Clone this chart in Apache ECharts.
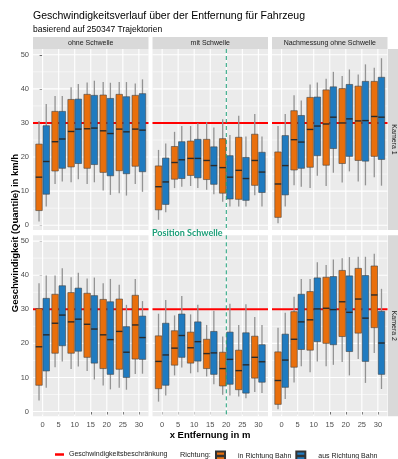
<!DOCTYPE html>
<html>
<head>
<meta charset="utf-8">
<script src="https://cdn.jsdelivr.net/npm/echarts@6/dist/echarts.min.js"></script>
<style>html,body{margin:0;padding:0;background:#fff}#c{width:398px;height:459px}</style>
</head>
<body>
<div id="c"></div>
<script>
// ---------- data ----------
const categories = [0, 5, 10, 15, 20, 25, 30];
const panelNames = ['ohne Schwelle', 'mit Schwelle', 'Nachmessung ohne Schwelle'];
const cameraNames = ['Kamera 1', 'Kamera 2'];
const yTicks = [0, 10, 20, 30, 40, 50];
const yMinorTicks = [5, 15, 25, 35, 45];
const speedLimit = [30];
const schwellePos = [20];
const seriesNames = ['in Richtung Bahn', 'aus Richtung Bahn'];
// each entry: [lower whisker, Q1, median, Q3, upper whisker]
const k1_ohne_in  = [[1.1,4.3,14.1,23.8,30.6],[12.1,15.9,24.5,33.4,37.9],[12.6,17.1,27.5,36.9,40.5],[12.1,16.7,28.3,38.4,41.9],[10.2,15.5,27.7,38.2,42.0],[9.4,16.0,28.2,38.4,42.0],[12.1,17.3,28.2,38.1,41.6]];
const k1_ohne_aus = [[5.5,9.1,18.7,29.2,35.6],[12.8,16.7,25.3,33.4,37.9],[13.5,18.1,28.2,37.0,41.4],[12.6,17.8,28.5,38.1,42.4],[8.9,14.5,26.9,37.2,41.8],[8.7,15.1,27.4,37.7,42.0],[9.8,15.7,27.9,38.6,42.8]];
const k1_mit_in   = [[1.6,4.5,11.3,17.4,22.1],[10.9,13.5,18.4,23.1,27.4],[11.5,14.6,19.6,24.7,29.1],[10.4,13.4,19.0,25.2,30.2],[6.9,9.4,16.9,25.4,31.1],[5.5,7.6,16.1,25.8,32.1],[8.8,11.7,19.0,26.7,32.6]];
const k1_mit_aus  = [[3.8,6.1,12.7,19.7,24.0],[11.3,13.7,19.2,24.5,29.1],[10.9,13.9,19.6,25.2,29.9],[9.1,12.0,17.5,23.0,28.7],[5.5,7.7,14.1,20.4,26.5],[5.5,7.3,13.7,19.9,26.0],[5.5,9.6,15.6,21.4,26.0]];
const k1_nach_in  = [[0.6,2.3,12.1,21.5,29.1],[11.7,16.2,25.1,33.6,38.1],[10.9,17.0,28.1,37.5,41.3],[11.5,17.6,29.7,39.7,43.0],[12.5,18.1,30.0,40.1,43.8],[12.8,19.0,30.6,40.8,44.2],[14.1,20.2,31.9,42.2,46.2]];
const k1_nach_aus = [[5.5,8.9,17.5,26.3,32.6],[11.3,16.7,24.4,32.2,36.6],[14.5,20.4,29.1,37.6,41.9],[15.4,22.5,31.7,40.6,45.0],[15.8,20.2,31.2,41.3,45.7],[11.7,18.8,30.7,42.2,47.2],[11.6,19.3,31.7,43.4,49.0]];
const k2_ohne_in  = [[3.2,7.7,19.0,30.2,37.6],[13.0,17.1,25.9,34.4,39.9],[12.5,17.1,26.3,34.9,39.4],[11.9,15.9,25.6,34.7,39.0],[7.6,12.6,22.5,32.9,37.6],[7.0,12.4,23.5,33.0,37.2],[11.0,15.4,25.4,34.1,38.9]];
const k2_ohne_aus = [[7.0,11.9,22.5,33.2,39.9],[14.7,19.3,28.3,36.9,42.0],[13.2,17.7,27.1,36.2,40.7],[9.4,14.2,24.2,34.0,39.3],[6.5,10.9,21.1,32.2,38.9],[6.4,10.0,17.4,24.9,31.3],[11.1,15.3,21.7,28.0,32.4]];
const k2_mit_in   = [[2.9,6.7,14.7,22.2,28.7],[10.6,13.6,18.6,23.7,28.2],[11.2,14.2,18.7,23.3,28.5],[10.3,12.6,17.0,21.2,25.4],[4.9,7.5,12.6,17.4,22.0],[4.4,6.4,12.0,18.0,25.4],[5.7,9.8,15.9,22.1,27.7]];
const k2_mit_aus  = [[4.7,7.7,16.6,25.9,32.7],[12.9,15.9,22.3,28.6,33.9],[11.5,14.8,20.5,26.3,31.3],[8.0,10.9,17.2,23.5,29.6],[4.7,8.0,15.3,23.3,31.6],[3.9,5.4,13.7,23.1,31.5],[5.4,8.6,14.6,19.6,25.4]];
const k2_nach_in  = [[0.7,2.1,9.1,17.5,24.6],[8.5,13.0,21.2,29.3,33.7],[11.5,18.0,26.9,35.2,38.9],[13.3,20.0,30.3,39.4,43.0],[14.5,22.0,32.2,41.4,45.0],[15.4,23.0,33.0,42.0,45.4],[17.2,24.6,34.2,42.7,46.3]];
const k2_nach_aus = [[3.7,7.1,15.1,22.7,29.0],[13.3,18.2,26.3,34.4,38.9],[14.7,20.5,30.1,39.2,43.8],[13.7,19.6,29.9,39.6,44.6],[10.6,17.6,29.1,39.8,45.3],[8.4,14.7,27.4,39.9,45.4],[6.6,10.9,20.1,29.4,36.0]];

const panelData = [
  [[k1_ohne_in, k1_ohne_aus], [k1_mit_in, k1_mit_aus], [k1_nach_in, k1_nach_aus]],
  [[k2_ohne_in, k2_ohne_aus], [k2_mit_in, k2_mit_aus], [k2_nach_in, k2_nach_aus]]
];

// ---------- layout / style ----------
const FONT = '"Liberation Sans", Arial, sans-serif';
const colors = ['#E96F0C', '#1F7BC0'];
const colLeft = [33, 152.5, 272];
const panelW = 115.5;
const rowTop = [49, 235.3];
const panelH = 181;
const yMin = -1.4, yMax = 51.7, xMin = -3, xMax = 33;
const dodge = 1.125, boxHalf = 1.0125;

const chart = echarts.init(document.getElementById('c'), null, {renderer: 'canvas'});

const grids = [], xAxes = [], yAxes = [], series = [];
for (let r = 0; r < 2; r++) {
  for (let c = 0; c < 3; c++) {
    const gi = r * 3 + c;
    grids.push({left: colLeft[c], top: rowTop[r], width: panelW, height: panelH,
      show: true, backgroundColor: '#EBEBEB', borderWidth: 0, containLabel: false});
    xAxes.push({gridIndex: gi, type: 'value', min: xMin, max: xMax,
      axisLine: {show: false}, splitLine: {show: false},
      axisTick: {show: r === 1, customValues: categories, length: 3, lineStyle: {color: '#333', width: 1}},
      axisLabel: {show: r === 1, customValues: categories, fontSize: 7.5, color: '#4D4D4D', margin: 5, fontFamily: FONT}});
    yAxes.push({gridIndex: gi, type: 'value', min: yMin, max: yMax,
      axisLine: {show: false}, splitLine: {show: false},
      axisTick: {show: c === 0, customValues: yTicks, length: 3, lineStyle: {color: '#333', width: 1}},
      axisLabel: {show: c === 0, customValues: yTicks, fontSize: 7.5, color: '#4D4D4D', margin: 4, fontFamily: FONT}});

    // background grid lines
    const glData = yTicks.map(v => [0, v]).concat(yMinorTicks.map(v => [1, v])).concat(categories.map(v => [2, v]));
    series.push({type: 'custom', xAxisIndex: gi, yAxisIndex: gi, z: 1, silent: true, clip: true,
      data: glData, encode: {x: -1, y: 1},
      renderItem: function (p, api) {
        const kind = api.value(0), v = api.value(1), cs = p.coordSys;
        if (kind === 2) {
          const x = api.coord([v, 0])[0];
          return {type: 'line', shape: {x1: x, y1: cs.y, x2: x, y2: cs.y + cs.height}, style: {stroke: '#fff', lineWidth: 1.1}};
        }
        const y = api.coord([0, v])[1];
        return {type: 'line', shape: {x1: cs.x, y1: y, x2: cs.x + cs.width, y2: y},
          style: {stroke: '#fff', lineWidth: kind === 0 ? 1.1 : 0.55}};
      }});

    // speed limit line
    series.push({type: 'custom', name: 'Geschwindigkeitsbeschränkung', xAxisIndex: gi, yAxisIndex: gi, z: 2,
      itemStyle: {color: '#FF0000'}, data: speedLimit.map(v => [0, v]), encode: {x: -1, y: 1},
      renderItem: function (p, api) {
        const cs = p.coordSys, y = api.coord([0, api.value(1)])[1];
        return {type: 'line', shape: {x1: cs.x, y1: y, x2: cs.x + cs.width, y2: y}, style: {stroke: '#FF0000', lineWidth: 2}};
      }});

    // boxplots
    for (let s = 0; s < 2; s++) {
      const off = s === 0 ? -dodge : dodge;
      const col = colors[s];
      const data = panelData[r][c][s].map((b, i) => [categories[i]].concat(b));
      series.push({type: 'custom', name: seriesNames[s], xAxisIndex: gi, yAxisIndex: gi, z: 3,
        itemStyle: {color: col, borderColor: '#333', borderWidth: 0.6},
        data: data, encode: {x: 0, y: [1, 2, 3, 4, 5]},
        renderItem: function (p, api) {
          const x = api.value(0) + off;
          const lo = api.value(1), q1 = api.value(2), md = api.value(3), q3 = api.value(4), hi = api.value(5);
          const pLo = api.coord([x, lo]), pHi = api.coord([x, hi]);
          const a = api.coord([x - boxHalf, q3]), b = api.coord([x + boxHalf, q1]);
          const mL = api.coord([x - boxHalf, md]), mR = api.coord([x + boxHalf, md]);
          return {type: 'group', children: [
            {type: 'line', shape: {x1: pLo[0], y1: pLo[1], x2: pHi[0], y2: pHi[1]}, style: {stroke: '#939393', lineWidth: 1.3}},
            {type: 'rect', shape: {x: a[0], y: a[1], width: b[0] - a[0], height: b[1] - a[1]}, style: {fill: col, stroke: '#444', lineWidth: 0.6}},
            {type: 'line', shape: {x1: mL[0], y1: mL[1], x2: mR[0], y2: mR[1]}, style: {stroke: '#2A2A2A', lineWidth: 1.4}}
          ]};
        }});
    }

    // Schwelle position line
    if (c === 1) {
      series.push({type: 'custom', xAxisIndex: gi, yAxisIndex: gi, z: 4, silent: true,
        data: schwellePos.map(v => [v, 0]), encode: {x: 0, y: -1},
        renderItem: function (p, api) {
          const cs = p.coordSys, x = api.coord([api.value(0), 0])[0];
          return {type: 'line', shape: {x1: x, y1: cs.y, x2: x, y2: cs.y + cs.height},
            style: {stroke: '#1B9E77', lineWidth: 1, lineDash: [4, 3]}};
        }});
    }
  }
}

// strips and texts
const graphics = [];
for (let c = 0; c < 3; c++) {
  graphics.push({type: 'rect', shape: {x: colLeft[c], y: 37, width: panelW, height: 12}, style: {fill: '#D9D9D9'}, z: 10});
  graphics.push({type: 'text', x: colLeft[c] + panelW / 2, y: 43.3, z: 11,
    style: {text: panelNames[c], align: 'center', verticalAlign: 'middle', font: '7px ' + FONT, fill: '#1A1A1A'}});
}
for (let r = 0; r < 2; r++) {
  graphics.push({type: 'rect', shape: {x: 388, y: rowTop[r], width: 12, height: panelH}, style: {fill: '#D9D9D9'}, z: 10});
  graphics.push({type: 'text', x: 393.5, y: rowTop[r] + panelH / 2, rotation: -Math.PI / 2, z: 11,
    style: {text: cameraNames[r], align: 'center', verticalAlign: 'middle', font: '7px ' + FONT, fill: '#1A1A1A'}});
}
graphics.push({type: 'text', x: 15, y: 233, rotation: Math.PI / 2, z: 11,
  style: {text: 'Geschwindigkeit (Quantile) in km/h', align: 'center', verticalAlign: 'middle', font: 'bold 9.5px ' + FONT, fill: '#000'}});
graphics.push({type: 'text', x: 210, y: 435, z: 11,
  style: {text: 'x Entfernung in m', align: 'center', verticalAlign: 'middle', font: 'bold 9.5px ' + FONT, fill: '#000'}});
graphics.push({type: 'text', x: 152, y: 233, z: 12,
  style: {text: 'Position Schwelle', align: 'left', verticalAlign: 'middle', font: 'bold 9px Lato, "Open Sans", sans-serif', fill: '#1B9E77'}});
graphics.push({type: 'text', x: 180, y: 455, z: 11,
  style: {text: 'Richtung:', align: 'left', verticalAlign: 'middle', font: '7.3px ' + FONT, fill: '#1A1A1A'}});

const boxIcon = 'path://M0,0L10,0L10,10L0,10Z M0,4.6L0,5.4L10,5.4L10,4.6Z';

chart.setOption({
  animation: false,
  backgroundColor: '#fff',
  title: [
    {text: 'Geschwindigkeitsverlauf über der Entfernung für Fahrzeug', left: 33, top: 11, padding: 0,
      textStyle: {fontSize: 10.5, fontWeight: 'normal', color: '#000', fontFamily: FONT}},
    {text: 'basierend auf 250347 Trajektorien', left: 33, top: 25, padding: 0,
      textStyle: {fontSize: 8.5, fontWeight: 'normal', color: '#000', fontFamily: FONT}}
  ],
  legend: [
    {data: ['Geschwindigkeitsbeschränkung'], left: 55, top: 451, padding: 0, itemWidth: 9, itemHeight: 2.5, icon: 'rect',
      selectedMode: false, textStyle: {fontSize: 7, color: '#1A1A1A', fontFamily: FONT}},
    {data: [{name: 'in Richtung Bahn', icon: boxIcon}, {name: 'aus Richtung Bahn', icon: boxIcon}],
      left: 215, top: 450.5, padding: 0, itemWidth: 9, itemHeight: 9, itemGap: 4, selectedMode: false,
      textStyle: {fontSize: 7, color: '#1A1A1A', fontFamily: FONT, padding: [0, 0, 0, 8]}}
  ],
  grid: grids, xAxis: xAxes, yAxis: yAxes, series: series,
  graphic: graphics
});
</script>
</body>
</html>
